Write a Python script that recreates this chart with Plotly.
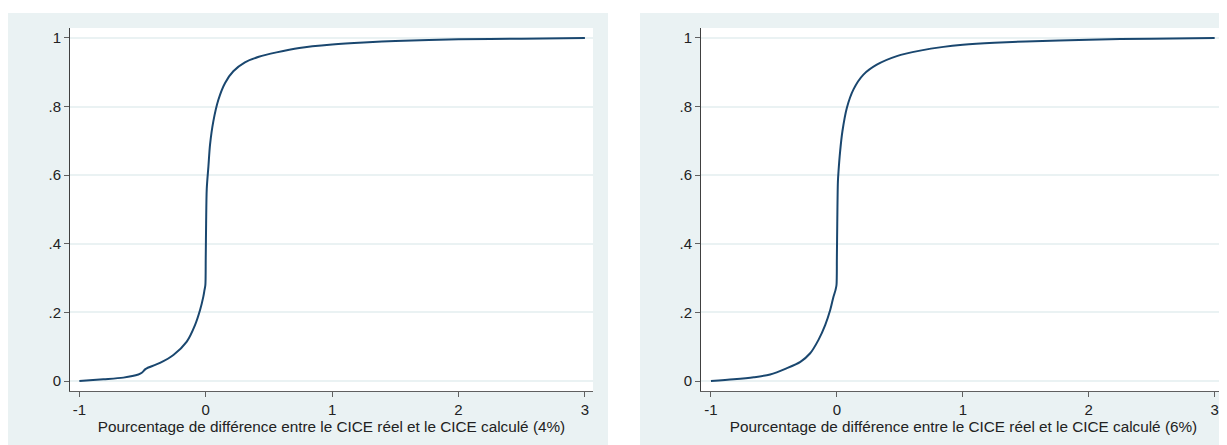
import plotly.graph_objects as go

# Left panel (4%) - cumulative distribution
x_left = [-1.0, -0.81, -0.652, -0.533, -0.506, -0.48, -0.467, -0.362, -0.256, -0.15, -0.085,
          -0.045, -0.019, -0.01, -0.003, 0.0, 0.003, 0.008, 0.021, 0.034, 0.06, 0.1, 0.153,
          0.218, 0.31, 0.42, 0.56, 0.74, 1.0, 1.25, 1.5, 2.0, 2.5, 3.0]
y_left = [0.0, 0.005, 0.01, 0.019, 0.024, 0.034, 0.037, 0.053, 0.076, 0.115, 0.163,
          0.207, 0.246, 0.265, 0.28, 0.36, 0.46, 0.56, 0.625, 0.689, 0.757, 0.82, 0.869,
          0.903, 0.929, 0.945, 0.958, 0.971, 0.981, 0.987, 0.991, 0.996, 0.998, 1.0]

# Right panel (6%)
x_right = [-1.0, -0.82, -0.66, -0.53, -0.4, -0.29, -0.212, -0.146, -0.093, -0.053,
           -0.027, -0.011, -0.003, 0.0, 0.003, 0.008, 0.013, 0.026, 0.044, 0.079, 0.132, 0.211,
           0.317, 0.476, 0.661, 0.846, 1.0, 1.25, 1.5, 2.0, 2.5, 3.0]
y_right = [0.0, 0.005, 0.011, 0.019, 0.037, 0.056, 0.081, 0.12, 0.163, 0.207,
           0.246, 0.265, 0.28, 0.36, 0.46, 0.58, 0.611, 0.67, 0.728, 0.796, 0.85, 0.893,
           0.922, 0.947, 0.963, 0.974, 0.98, 0.986, 0.99, 0.995, 0.998, 1.0]

x_ticks = [-1, 0, 1, 2, 3]
x_tick_text = ["-1", "0", "1", "2", "3"]
y_ticks = [0, 0.2, 0.4, 0.6, 0.8, 1.0]
y_tick_text = ["0", ".2", ".4", ".6", ".8", "1"]
titles = ["Pourcentage de différence entre le CICE réel et le CICE calculé (4%)",
          "Pourcentage de différence entre le CICE réel et le CICE calculé (6%)"]

OFF = 8  # default page body margin
W, H = 1227 - OFF, 445 - OFF
BG = "#eaf2f3"
LINE = "#1a476f"
FONT = "Liberation Sans, Arial, sans-serif"

def px(x):
    return (x - OFF) / W

def py(y):
    return 1 - (y - OFF) / H

fig = go.Figure()
fig.add_trace(go.Scatter(x=x_left, y=y_left, mode="lines",
                         line=dict(color=LINE, width=2, shape="spline", smoothing=0.8),
                         xaxis="x", yaxis="y", showlegend=False, hoverinfo="skip"))
fig.add_trace(go.Scatter(x=x_right, y=y_right, mode="lines",
                         line=dict(color=LINE, width=2, shape="spline", smoothing=0.8),
                         xaxis="x2", yaxis="y2", showlegend=False, hoverinfo="skip"))

def xaxis(domain, rng, anchor, title):
    return dict(domain=domain, range=rng, anchor=anchor, tickvals=x_ticks, ticktext=x_tick_text,
                showgrid=False, zeroline=False, showline=True, linecolor="#606060", linewidth=1,
                ticks="outside", ticklen=5, tickcolor="#606060", tickwidth=1,
                tickfont=dict(family=FONT, size=15, color="#222"),
                title=dict(text=title, font=dict(family=FONT, size=15.3, color="#222"), standoff=1),
                fixedrange=True)

def yaxis(domain, anchor):
    return dict(domain=domain, range=[-0.029, 1.029], anchor=anchor, tickvals=y_ticks,
                ticktext=y_tick_text, showgrid=True, gridcolor=BG, gridwidth=1.5,
                zeroline=False, showline=True, linecolor="#404040", linewidth=1,
                ticks="outside", ticklen=5, tickcolor="#606060", tickwidth=1,
                tickfont=dict(family=FONT, size=15, color="#222"), fixedrange=True)

ydom = [py(391), py(28)]
fig.update_layout(
    width=W, height=H, margin=dict(l=0, r=0, t=0, b=0),
    paper_bgcolor="white", plot_bgcolor="white",
    xaxis=xaxis([px(70), px(593)], [-1.074, 3.064], "y", titles[0]),
    yaxis=yaxis(ydom, "x"),
    xaxis2=xaxis([px(701), px(1226)], [-1.079, 3.09], "y2", titles[1]),
    yaxis2=yaxis(ydom, "x2"),
    shapes=[
        dict(type="rect", xref="paper", yref="paper", x0=px(8), x1=px(608), y0=0, y1=py(13),
             fillcolor=BG, line=dict(width=0), layer="below"),
        dict(type="rect", xref="paper", yref="paper", x0=px(640), x1=1, y0=0, y1=py(13),
             fillcolor=BG, line=dict(width=0), layer="below"),
        dict(type="rect", xref="paper", yref="paper", x0=px(70), x1=px(593), y0=ydom[0], y1=ydom[1],
             fillcolor="white", line=dict(width=0), layer="below"),
        dict(type="rect", xref="paper", yref="paper", x0=px(701), x1=1, y0=ydom[0], y1=ydom[1],
             fillcolor="white", line=dict(width=0), layer="below"),
    ],
)

fig.write_html("out.html")
